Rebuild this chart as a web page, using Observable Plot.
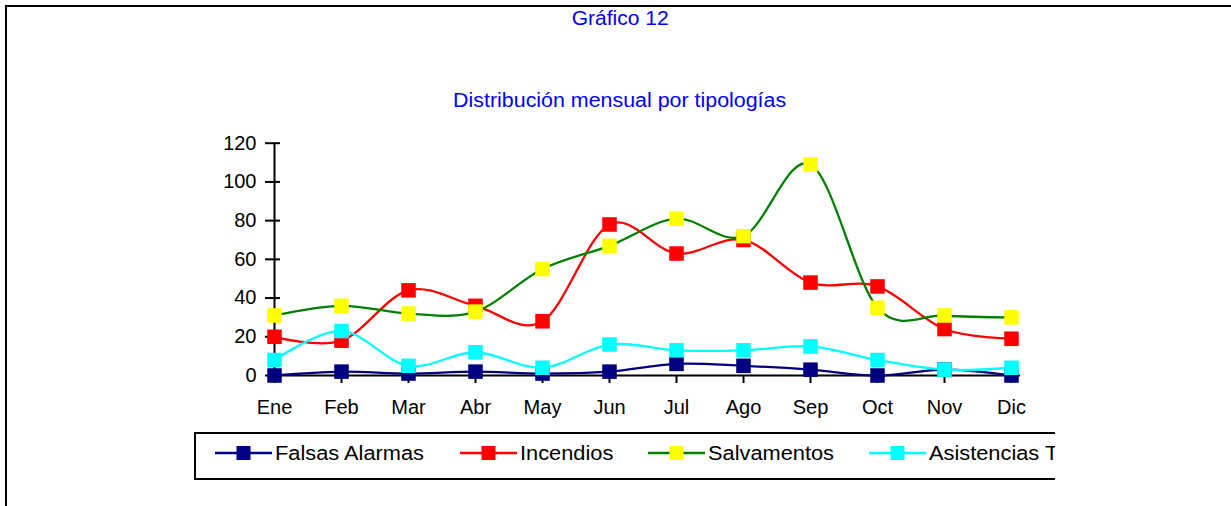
<!DOCTYPE html>
<html><head><meta charset="utf-8">
<script src="https://cdn.jsdelivr.net/npm/d3@7"></script>
<script src="https://cdn.jsdelivr.net/npm/@observablehq/plot@0.6"></script>
<style>
body{margin:0;background:#fff;font-family:"Liberation Sans",Arial,sans-serif;}
#page{position:relative;width:1231px;height:506px;overflow:hidden;background:#fff;}
#frame{position:absolute;left:5px;top:5px;width:1400px;height:700px;border-top:2px solid #000;border-left:2px solid #000;}
.t{position:absolute;left:0;width:1240px;text-align:center;color:#0000ff;font-size:20px;line-height:24px;white-space:nowrap;}
.t span{display:inline-block;}
#chartbox{position:absolute;left:0;top:0;}
#legclip{position:absolute;left:0;top:0;width:1055px;height:506px;overflow:hidden;}
#legend{position:absolute;left:194px;top:432px;width:1000px;height:44px;border:2px solid #000;font-size:20px;}
.item{position:absolute;top:7px;display:flex;align-items:center;height:24px;white-space:nowrap;}
.item svg{display:block;margin-right:3px;}
.item span{display:inline-block;transform:scaleX(1.09);transform-origin:0 50%;}
</style>
</head><body>
<div id="page">
  <div id="frame"></div>
  <div class="t" style="top:6px"><span style="transform:scaleX(1.05)">Gráfico 12</span></div>
  <div class="t" style="top:88px"><span style="transform:scaleX(1.07)">Distribución mensual por tipologías</span></div>
  <div id="chartbox"></div>
  <div id="legclip"><div id="legend"></div></div>
</div>
<script>
const months = ["Ene","Feb","Mar","Abr","May","Jun","Jul","Ago","Sep","Oct","Nov","Dic"];
const yTicks = [0,20,40,60,80,100,120];
const seriesNames = ["Falsas Alarmas","Incendios","Salvamentos","Asistencias Técnicas"];
const falsasAlarmas = [0,2,1,2,1,2,6,5,3,0,3,0];
const incendios = [20,18,44,36,28,78,63,70,48,46,24,19];
const salvamentos = [31,36,32,33,55,67,81,72,109,35,31,30];
const asistencias = [8,23,5,12,4,16,13,13,15,8,3,4];
const lineColors = ["#000080","#ff0000","#008000","#00ffff"];
const markerColors = ["#000080","#ff0000","#ffff00","#00ffff"];
const values = [falsasAlarmas, incendios, salvamentos, asistencias];

const data = seriesNames.flatMap((name, k) => months.map((m, i) => ({serie: name, month: m, value: values[k][i]})));

const seriesMarks = seriesNames.flatMap((name, k) => {
  const d = data.filter(r => r.serie === name);
  return [
    Plot.line(d, {x: "month", y: "value", stroke: lineColors[k], strokeWidth: 2.3, curve: "cardinal"}),
    Plot.dot(d, {x: "month", y: "value", symbol: "square", r: 8.2, fill: markerColors[k], stroke: null})
  ];
});

const chart = Plot.plot({
  width: 1060, height: 506,
  marginLeft: 272, marginRight: 48, marginTop: 142.7, marginBottom: 131,
  x: {type: "point", domain: months, padding: 0},
  y: {domain: [0, 120]},
  style: {fontFamily: '"Liberation Sans", Arial, sans-serif', fontSize: "20px", color: "#000", background: "transparent"},
  marks: [
    Plot.ruleX([months[0]], {stroke: "#000", strokeWidth: 2}),
    Plot.ruleY([0], {stroke: "#000", strokeWidth: 2, insetRight: -8}),
    Plot.axisY({ticks: yTicks, tickSize: 0, tickPadding: 16, fontSize: 20, label: null}),
    Plot.axisY({ticks: yTicks, tickSize: 15, dx: 8, text: null, strokeWidth: 2, label: null}),
    Plot.axisX({tickSize: 8, tickPadding: 16, strokeWidth: 2, fontSize: 20, label: null}),
    ...seriesMarks
  ]
});
document.getElementById("chartbox").appendChild(chart);

const legend = document.getElementById("legend");
const itemLeft = [19, 264, 452, 673];
seriesNames.forEach((name, k) => {
  const item = document.createElement("div");
  item.className = "item";
  item.style.left = itemLeft[k] + "px";
  item.innerHTML = `<svg width="57" height="24"><line x1="0" x2="57" y1="12" y2="12" stroke="${lineColors[k]}" stroke-width="2.3"/><rect x="21.5" y="5" width="14" height="14" fill="${markerColors[k]}"/></svg><span>${name}</span>`;
  legend.appendChild(item);
});
</script>
</body></html>
